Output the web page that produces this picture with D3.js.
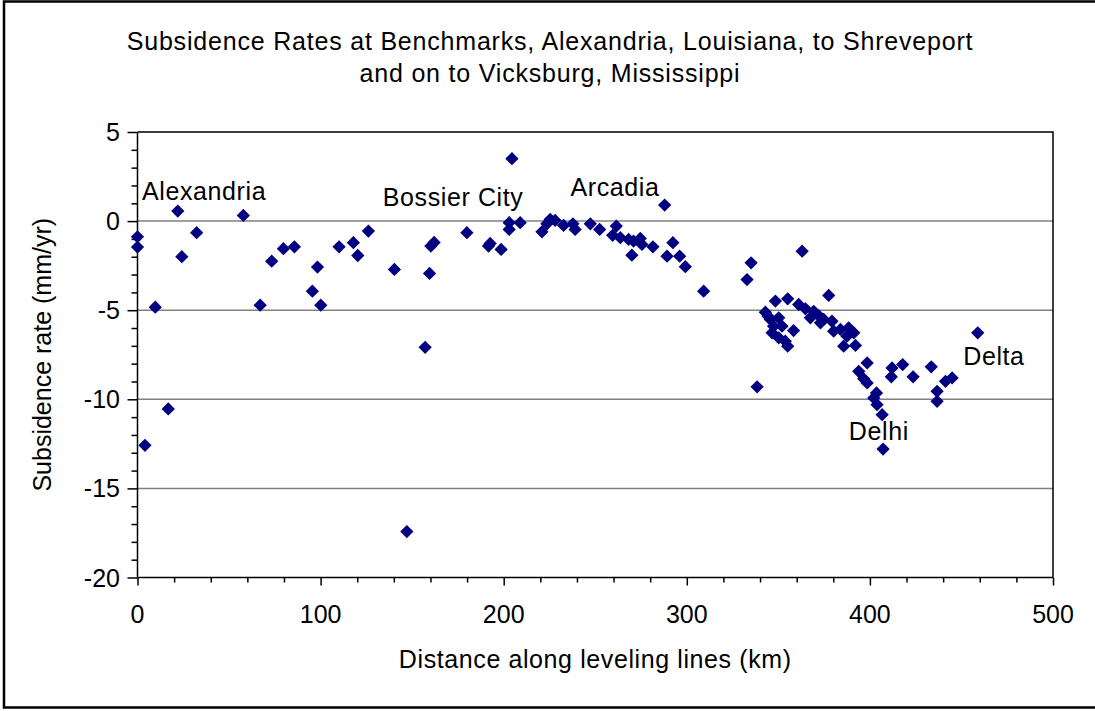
<!DOCTYPE html>
<html>
<head>
<meta charset="utf-8">
<script src="https://cdn.jsdelivr.net/npm/d3@7"></script>
<style>
  body { margin: 0; background: #fff; }
  text { font-family: Arial, "Liberation Sans", sans-serif; fill: #000; }
</style>
</head>
<body>
<div id="chart"></div>
<script>
// Distance along leveling lines (km)
const distKm = [0, 0, 4.1, 9.7, 16.8, 22, 24.2, 32.3, 57.8, 67, 73.3, 79.7, 85.7, 95.5, 98.3, 100.1,
  110.1, 117.9, 120.3, 126.1, 140.3, 147.1, 157.1, 159.5, 160.2, 162, 179.9, 191.7, 192.6, 198.6,
  203, 203, 204.5, 209, 220.9, 223.6, 225.4, 228.1, 232.7, 237.8, 239, 247.3, 252.4, 259.5, 261.5,
  263.7, 268.2, 270, 270.9, 274.6, 275.5, 281.5, 287.9, 289.2, 292.4, 296.1, 299.2, 309.2, 332.9,
  335.1, 338.4, 342.9, 344.5, 345.6, 346.6, 347.4, 348.4, 350.2, 350.2, 352, 353.8, 355.1, 355.1,
  358.3, 361.1, 363, 364.8, 367.5, 369.3, 372, 373, 374.8, 377.5, 379.3, 380.2, 383.9, 385.7, 387.5,
  388.4, 391.2, 392.1, 393.9, 396.6, 398.5, 398.5, 402.1, 403.6, 403.9, 406.7, 407.2, 411.7, 412.1,
  417.9, 423.6, 433.5, 436.7, 436.7, 441.3, 444.9, 458.9];

// Subsidence rate (mm/yr)
const rateMm = [-0.88, -1.46, -12.58, -4.83, -10.54, 0.56, -2.0, -0.65, 0.32, -4.72, -2.25, -1.55, -1.44, -3.93, -2.58, -4.72,
  -1.44, -1.21, -1.93, -0.56, -2.71, -17.42, -7.08, -2.94, -1.4, -1.2, -0.65, -1.4, -1.25, -1.59,
  -0.09, -0.47, 3.5, -0.09, -0.6, -0.15, 0.1, 0.04, -0.24, -0.15, -0.47, -0.15, -0.47, -0.8, -0.28,
  -0.93, -1.03, -1.91, -1.12, -0.97, -1.31, -1.44, 0.9, -1.97, -1.21, -1.97, -2.56, -3.93, -3.28,
  -2.34, -9.3, -5.11, -5.35, -5.52, -6.27, -5.9, -4.49, -5.43, -6.55, -5.9, -6.74, -4.36, -7.02,
  -6.14, -4.68, -1.69, -4.92, -5.43, -5.06, -5.3, -5.71, -5.52, -4.17, -5.62, -6.18, -6.08, -7.02, -6.46,
  -5.99, -6.27, -6.98, -8.43, -8.85, -7.96, -9.08, -9.92, -9.64, -10.3, -10.86, -12.79, -8.74, -8.24,
  -8.05, -8.74, -8.18, -9.55, -10.11, -8.99, -8.8, -6.27];

// Place-name annotations (km, mm/yr)
const placeNames = ["Alexandria", "Bossier City", "Arcadia", "Delhi", "Delta"];
const placeKm = [2.5, 134, 236.5, 388.5, 451];
const placeRate = [1.2, 0.84, 1.43, -12.26, -8.08];

const xTicks = [0, 100, 200, 300, 400, 500];
const yTicks = [5, 0, -5, -10, -15, -20];

const svgWidth = 1095;
const svgHeight = 711;
const plot = { left: 137.5, right: 1053, top: 132, bottom: 577.5 };

const svg = d3.select("#chart").append("svg")
    .attr("width", svgWidth)
    .attr("height", svgHeight);

const xScale = d3.scaleLinear().domain([0, 500]).range([plot.left, plot.right]);
const yScale = d3.scaleLinear().domain([-20, 5]).range([plot.bottom, plot.top]);

// outer frame (right edge falls off the picture)
svg.append("rect")
    .attr("x", 4).attr("y", 1.5)
    .attr("width", 1110).attr("height", 706)
    .style("fill", "none")
    .style("stroke", "#000")
    .style("stroke-width", 2.5);

// horizontal gridlines
svg.append("g")
    .selectAll("line")
    .data(yTicks.filter(v => v > -20 && v < 5))
    .enter().append("line")
    .attr("x1", plot.left).attr("x2", plot.right)
    .attr("y1", d => yScale(d)).attr("y2", d => yScale(d))
    .style("stroke", "#808080")
    .style("stroke-width", 1.5);

// plot area box (top + right edges)
svg.append("path")
    .attr("d", `M${plot.left},${plot.top}H${plot.right}V${plot.bottom}`)
    .style("fill", "none")
    .style("stroke", "#000")
    .style("stroke-width", 1.5);

// y axis with minor ticks every 1 mm/yr
const yAxis = svg.append("g").attr("transform", `translate(${plot.left},0)`);
yAxis.call(d3.axisLeft(yScale).tickValues(d3.range(-20, 6, 1)).tickSize(6).tickFormat(""));
yAxis.call(g => g.selectAll(".tick line").filter(d => d % 5 === 0).attr("x2", -10));
yAxis.selectAll(".domain").attr("d", `M0,${plot.top}V${plot.bottom}`);
yAxis.selectAll("line, path").style("stroke", "#000").style("stroke-width", 1.5);

svg.append("g").selectAll("text")
    .data(yTicks)
    .enter().append("text")
    .attr("x", 120)
    .attr("y", d => yScale(d) + 9)
    .attr("text-anchor", "end")
    .style("font-size", "25px")
    .text(d => d);

// x axis with minor ticks every 20 km
const xAxis = svg.append("g").attr("transform", `translate(0,${plot.bottom})`);
xAxis.call(d3.axisBottom(xScale).tickValues(d3.range(0, 501, 20)).tickSize(5).tickFormat(""));
xAxis.call(g => g.selectAll(".tick line").filter(d => d % 100 === 0).attr("y2", 8));
xAxis.selectAll(".domain").attr("d", `M${plot.left},0H${plot.right}`);
xAxis.selectAll("line, path").style("stroke", "#000").style("stroke-width", 1.5);

svg.append("g").selectAll("text")
    .data(xTicks)
    .enter().append("text")
    .attr("x", d => xScale(d))
    .attr("y", 623)
    .attr("text-anchor", "middle")
    .style("font-size", "25px")
    .text(d => d);

// data points as navy diamonds
const diamond = d3.symbol().type(d3.symbolSquare).size(88);
svg.append("g")
    .selectAll("path")
    .data(distKm.map((d, i) => [d, rateMm[i]]))
    .enter().append("path")
    .attr("d", diamond)
    .attr("transform", d => `translate(${xScale(d[0])},${yScale(d[1])}) rotate(45)`)
    .style("fill", "#000080");

// place labels
svg.append("g").selectAll("text")
    .data(placeNames)
    .enter().append("text")
    .attr("x", (d, i) => xScale(placeKm[i]))
    .attr("y", (d, i) => yScale(placeRate[i]))
    .style("font-size", "25px")
    .style("letter-spacing", "0.6px")
    .text(d => d);

// titles
svg.append("text")
    .attr("x", 550).attr("y", 50)
    .attr("text-anchor", "middle")
    .style("font-size", "25px")
    .style("letter-spacing", "0.8px")
    .text("Subsidence Rates at Benchmarks, Alexandria, Louisiana, to Shreveport");

svg.append("text")
    .attr("x", 550).attr("y", 82)
    .attr("text-anchor", "middle")
    .style("font-size", "25px")
    .style("letter-spacing", "0.8px")
    .text("and on to Vicksburg, Mississippi");

svg.append("text")
    .attr("x", (plot.left + plot.right) / 2).attr("y", 668)
    .attr("text-anchor", "middle")
    .style("font-size", "25px")
    .style("letter-spacing", "0.6px")
    .text("Distance along leveling lines (km)");

svg.append("text")
    .attr("transform", `translate(51,${(plot.top + plot.bottom) / 2}) rotate(-90)`)
    .attr("text-anchor", "middle")
    .style("font-size", "25px")
    .text("Subsidence rate (mm/yr)");
</script>
</body>
</html>
